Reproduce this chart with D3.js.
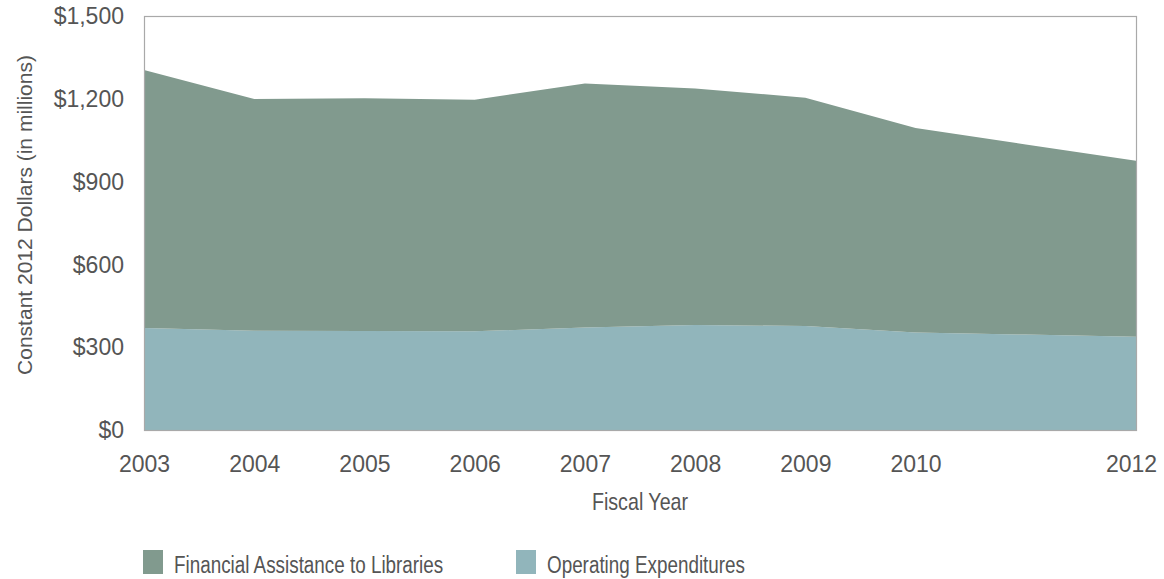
<!DOCTYPE html>
<html>
<head>
<meta charset="utf-8">
<script src="https://cdn.jsdelivr.net/npm/d3@7"></script>
<style>
  html, body { margin: 0; padding: 0; background: #fff; }
  svg { display: block; }
</style>
</head>
<body>
<svg id="chart" width="1164" height="579"></svg>
<script>
// ---- Data (constant 2012 dollars, millions) ----
const years = [2003, 2004, 2005, 2006, 2007, 2008, 2009, 2010, 2011, 2012];
const operatingExpenditures = [371, 361, 360, 359, 373, 382, 378, 355, 347, 339];
const financialAssistance = [934, 839, 842, 838, 883, 856, 826, 740, 688, 637];
const xTickYears = [2003, 2004, 2005, 2006, 2007, 2008, 2009, 2010, 2012];
const yTickValues = [0, 300, 600, 900, 1200, 1500];
const seriesNames = ["Operating Expenditures", "Financial Assistance to Libraries"];
const legendOrder = ["Financial Assistance to Libraries", "Operating Expenditures"];

const colors = {
  "Operating Expenditures": "#91b5bb",
  "Financial Assistance to Libraries": "#819a8e"
};

const svg = d3.select("#chart");
const margin = { left: 144, right: 28, top: 16, bottom: 149 };
const W = 1164, H = 579;
const x0 = margin.left, x1 = W - margin.right;
const y0 = H - margin.bottom, y1 = margin.top;

const x = d3.scaleLinear().domain([2003, 2012]).range([x0, x1]);
const y = d3.scaleLinear().domain([0, 1500]).range([y0 + 0.5, y1]);

const table = years.map((yr, i) => ({
  year: yr,
  "Operating Expenditures": operatingExpenditures[i],
  "Financial Assistance to Libraries": financialAssistance[i]
}));

const stack = d3.stack().keys(seriesNames);
const layers = stack(table);

const area = d3.area()
  .x(d => x(d.data.year))
  .y0(d => y(d[0]))
  .y1(d => y(d[1]));

svg.append("g")
  .selectAll("path")
  .data(layers)
  .join("path")
  .attr("d", area)
  .attr("fill", d => colors[d.key]);

// frame
svg.append("rect")
  .attr("x", x0 + 0.5).attr("y", y1 + 0.5)
  .attr("width", x1 - x0).attr("height", y0 - y1)
  .attr("fill", "none")
  .attr("stroke", "#a9a9a9")
  .attr("stroke-width", 1.2);

const textColor = "#555555";
const regFont = "'Liberation Sans', Arial, sans-serif";

// y axis
const yAxis = d3.axisLeft(y)
  .tickValues(yTickValues)
  .tickSize(0)
  .tickPadding(20)
  .tickFormat(d => "$" + d3.format(",")(d));
const gy = svg.append("g").attr("transform", `translate(${x0},0)`).call(yAxis);
gy.select(".domain").remove();
gy.selectAll("text")
  .attr("fill", textColor)
  .style("font-family", regFont)
  .style("font-size", "23px");

// x axis
const xAxis = d3.axisBottom(x)
  .tickValues(xTickYears)
  .tickSize(0)
  .tickPadding(26)
  .tickFormat(d3.format("d"));
const gx = svg.append("g").attr("transform", `translate(0,${y0})`).call(xAxis);
gx.select(".domain").remove();
gx.selectAll("text")
  .attr("fill", textColor)
  .style("font-family", regFont)
  .style("font-size", "23px");
gx.selectAll(".tick").filter(d => d === 2012).select("text").attr("dx", -5);

// condensed text helper (narrow face emulated by horizontal scaling)
const NARROW = 0.82;

// axis titles
svg.append("text")
  .attr("transform", `translate(${(x0 + x1) / 2},510) scale(${NARROW},1)`)
  .attr("text-anchor", "middle")
  .attr("fill", textColor)
  .style("font-family", regFont)
  .style("font-size", "24px")
  .text("Fiscal Year");

svg.append("text")
  .attr("transform", "translate(32,215) rotate(-90)")
  .attr("text-anchor", "middle")
  .attr("fill", textColor)
  .style("font-family", regFont)
  .style("font-size", "21px")
  .text("Constant 2012 Dollars (in millions)");

// legend
const legendX = [143, 516];
const lg = svg.append("g");
legendOrder.forEach((name, i) => {
  const g = lg.append("g").attr("transform", `translate(${legendX[i]},550)`);
  g.append("rect").attr("width", 20).attr("height", 24).attr("fill", colors[name]);
  g.append("text")
    .attr("transform", `translate(31,23) scale(${NARROW},1)`)
    .attr("fill", textColor)
    .style("font-family", regFont)
    .style("font-size", "23px")
    .text(name);
});
</script>
</body>
</html>
